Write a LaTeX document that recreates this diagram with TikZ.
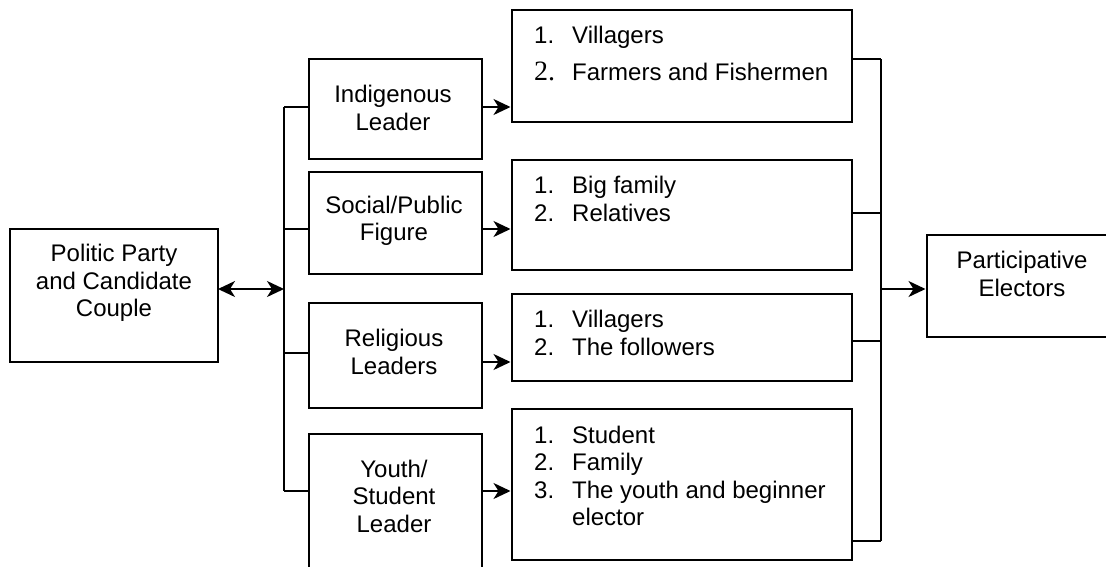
\documentclass[tikz,border=0pt]{standalone}
\usepackage{fontspec}
\setmainfont{Liberation Sans}
\newfontfamily\numserif{Liberation Serif}
\usetikzlibrary{arrows.meta,calc}

\tikzset{
  frame/.style={draw, rectangle, line width=1.8pt, inner sep=0pt, outer sep=0pt},
  wire/.style={line width=1.8pt},
  tip/.tip={Stealth[length=17pt, width=16pt, inset=5pt]},
  arr/.style={wire, -tip, shorten >=1.5pt},
  darr/.style={wire, tip-tip},
  lbl/.style={align=center, inner sep=0pt, font=\fontsize{24}{27.5}\selectfont},
  lst/.style={align=left, inner sep=0pt, anchor=north west, font=\fontsize{24}{27.5}\selectfont},
}

% rectangle given by its corners (x1,y1) and (x2,y2), y growing downwards
\newcommand\panel[5]{%
  \node[frame, minimum width={#4-#2}, minimum height={#5-#3}]
    (#1) at ({(#2+#4)/2},{(#3+#5)/2}) {};}
\newcommand\itm[1]{\makebox[38pt][l]{#1}}

\begin{document}
\begin{tikzpicture}[x=1pt, y=-1pt]
  \useasboundingbox (0,0) rectangle (1106,566);
  \clip (0,0) rectangle (1106,566);

  % boxes
  \panel{party}{10}{229}{218}{362}
  \panel{ind}{309}{59}{482}{159}
  \panel{soc}{309}{172}{482}{274}
  \panel{rel}{309}{303}{482}{408}
  \panel{you}{309}{434}{482}{575}
  \panel{l1}{512}{10}{852}{122}
  \panel{l2}{512}{160}{852}{270}
  \panel{l3}{512}{294}{852}{381}
  \panel{l4}{512}{409}{852}{560}
  \panel{part}{927}{235}{1117}{337}

  % box texts
  \node[lbl] (tparty) at (114,283) {Politic Party\\and Candidate\\Couple};
  \node[lbl] (tind)   at (393,108) {Indigenous\\Leader};
  \node[lbl] (tsoc)   at (394,221) {Social/Public\\Figure};
  \node[lbl] (trel)   at (394,352) {Religious\\Leaders};
  \node[lbl] (tyou)   at (394,496) {Youth/\\Student\\Leader};
  \node[lbl] (tpart)  at (1022,274) {Participative\\Electors};

  \node[lst] (t1) at ($(l1.north west)+(22,16.4)$)
    {\itm{1.}Villagers\\[9.5pt]\itm{\numserif\fontsize{28}{28}\selectfont 2.}Farmers and Fishermen};
  \node[lst] (t2) at ($(l2.north west)+(22,16.4)$)
    {\itm{1.}Big family\\\itm{2.}Relatives};
  \node[lst] (t3) at ($(l3.north west)+(22,16.4)$)
    {\itm{1.}Villagers\\\itm{2.}The followers};
  \node[lst] (t4) at ($(l4.north west)+(22,16.4)$)
    {\itm{1.}Student\\\itm{2.}Family\\\itm{3.}The youth and beginner\\\itm{}elector};

  % left bus
  \coordinate (bI) at (284,107);
  \coordinate (bS) at (284,229);
  \coordinate (bR) at (284,353);
  \coordinate (bY) at (284,491);
  \coordinate (bM) at (284,289);
  \draw[wire] (bI) -- (bY);
  \foreach \p/\n in {bI/ind, bS/soc, bR/rel, bY/you}
    \draw[wire] (\p) -- (\p -| \n.west);
  \draw[darr] (bM -| party.east) -- (bM);

  % leaders to their groups
  \coordinate (aR) at (0,362);
  \draw[arr] (ind.east |- bI) -- (l1.west |- bI);
  \draw[arr] (soc.east |- bS) -- (l2.west |- bS);
  \draw[arr] (rel.east |- aR) -- (l3.west |- aR);
  \draw[arr] (you.east |- bY) -- (l4.west |- bY);

  % right bus
  \coordinate (r1) at (881,59);
  \coordinate (r2) at (881,213);
  \coordinate (r3) at (881,341);
  \coordinate (r4) at (881,541);
  \coordinate (rM) at (881,289);
  \draw[wire] (r1) -- (r4);
  \foreach \p/\n in {r1/l1, r2/l2, r3/l3, r4/l4}
    \draw[wire] (\n.east |- \p) -- (\p);
  \draw[arr] (rM) -- (rM -| part.west);
\end{tikzpicture}
\end{document}
